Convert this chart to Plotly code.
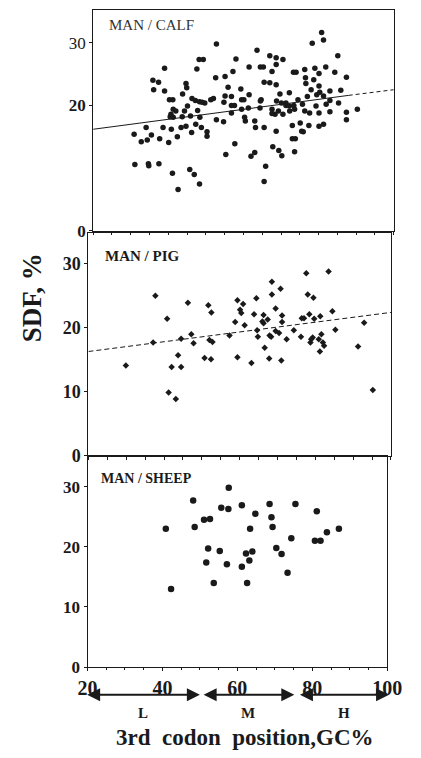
import plotly.graph_objects as go

# ---------------- data ----------------
calf_gc = [80.8, 81.3, 78.3, 52.8, 63.6, 67.0, 68.7, 70.5, 85.1, 68.7, 48.2, 49.3, 58.0, 47.6, 39.0,
           81.9, 79.0, 61.5, 64.5, 65.3, 67.6, 76.3, 73.3, 74.0, 84.3, 80.1, 57.2, 35.9, 37.4, 52.6,
           55.1, 76.5, 78.7, 87.4, 65.5, 67.0, 68.7, 44.7, 44.9, 36.1, 39.0, 55.9, 59.3, 43.8, 76.6,
           80.1, 78.0, 80.3, 83.0, 85.9, 77.0, 79.5, 81.3, 69.7, 72.2, 61.5, 64.7, 64.5, 55.1, 56.8,
           59.5, 60.1, 40.3, 41.2, 46.3, 47.2, 48.3, 49.0, 49.7, 51.3, 52.0, 54.8, 56.8, 57.6, 83.0,
           85.3, 82.0, 79.3, 74.5, 75.7, 71.3, 73.4, 68.8, 70.1, 71.3, 72.2, 45.1, 41.3, 42.0, 44.3,
           47.8, 56.8, 59.5, 61.3, 64.4, 67.6, 69.3, 72.3, 73.6, 76.3, 77.6, 80.1, 83.0, 87.4, 90.3,
           40.7, 40.5, 41.3, 43.7, 45.9, 48.4, 52.8, 54.7, 60.3, 60.5, 63.0, 68.4, 70.5, 67.6, 81.3,
           80.1, 77.4, 75.1, 73.0, 87.4, 34.1, 38.6, 40.8, 43.4, 44.7, 47.3, 48.8, 50.3, 50.3, 63.2,
           65.5, 68.7, 75.5, 75.9, 30.9, 32.8, 34.4, 35.5, 37.7, 40.1, 42.4, 46.2, 57.7, 73.0, 73.8,
           67.8, 69.4, 70.2, 73.6, 55.3, 63.0, 62.0, 31.1, 34.7, 34.8, 37.5, 41.1, 45.7, 46.9, 48.3,
           42.6, 65.9, 65.5]
calf_sdf = [31.6, 30.4, 29.9, 29.8, 28.8, 27.9, 27.6, 27.3, 27.9, 26.5, 27.3, 27.3, 27.4, 25.8, 25.9,
            26.1, 25.9, 26.1, 26.1, 26.1, 25.4, 25.7, 25.3, 25.3, 25.3, 25.1, 25.4, 24.0, 23.7, 24.4,
            24.6, 24.4, 24.1, 24.5, 23.7, 23.6, 23.3, 23.5, 22.8, 22.5, 22.3, 22.9, 22.6, 21.8, 23.5,
            23.1, 22.5, 22.1, 22.3, 22.4, 21.4, 21.7, 21.5, 21.8, 22.0, 21.7, 20.9, 20.7, 21.5, 21.4,
            20.9, 20.9, 20.9, 20.9, 21.1, 20.8, 20.6, 20.5, 20.4, 20.9, 21.1, 20.5, 20.0, 20.0, 20.8,
            20.4, 20.2, 19.9, 20.9, 20.2, 20.4, 20.0, 20.7, 20.4, 20.0, 19.9, 19.9, 19.4, 19.1, 19.1,
            19.2, 18.8, 19.4, 19.6, 19.6, 19.4, 19.1, 19.1, 19.4, 19.1, 18.8, 18.8, 19.0, 18.9, 19.4,
            18.6, 18.2, 18.1, 18.2, 18.3, 18.1, 17.7, 17.4, 18.1, 17.5, 17.5, 18.6, 18.6, 18.7, 17.0,
            16.7, 16.8, 17.2, 16.8, 17.7, 16.5, 16.5, 16.2, 16.5, 16.7, 17.0, 16.5, 15.8, 15.1, 16.5,
            16.5, 15.9, 15.9, 15.8, 15.4, 14.2, 14.5, 15.3, 14.7, 14.1, 15.0, 15.7, 13.9, 14.7, 14.7,
            13.4, 12.8, 12.0, 12.6, 12.2, 12.5, 11.9, 10.6, 10.7, 10.4, 10.7, 9.2, 9.8, 9.0, 7.5,
            6.6, 10.3, 7.9]

pig_gc = [37.7, 40.8, 37.1, 42.0, 43.7, 44.5, 44.5, 41.2, 43.1, 29.9, 46.3, 47.2, 47.8, 50.7, 52.4,
          51.7, 52.5, 52.0, 52.8, 57.3, 58.8, 59.4, 60.1, 60.4, 60.9, 61.3, 59.4, 63.1, 63.8, 64.4,
          64.6, 64.8, 66.3, 66.6, 66.0, 66.3, 67.4, 67.8, 67.9, 68.3, 68.5, 68.5, 69.5, 69.5, 70.4,
          70.8, 71.2, 71.2, 71.0, 72.4, 74.3, 76.2, 76.4, 77.0, 77.6, 78.0, 78.4, 78.7, 78.9, 79.3,
          79.5, 79.7, 80.9, 81.2, 81.3, 81.6, 82.0, 82.3, 83.5, 84.5, 85.3, 91.3, 92.9, 95.2]
pig_sdf = [25.0, 21.4, 17.7, 13.9, 15.7, 13.9, 18.3, 9.9, 8.9, 14.1, 23.9, 19.0, 17.6, 15.3, 15.1,
           23.5, 22.4, 18.1, 17.8, 18.8, 20.9, 24.3, 22.8, 22.3, 23.7, 20.4, 15.4, 14.5, 22.1, 24.6,
           19.6, 18.6, 22.0, 16.9, 21.0, 20.7, 21.3, 15.2, 18.8, 18.6, 27.2, 25.2, 23.0, 19.5, 19.2,
           26.1, 21.9, 20.9, 14.9, 18.2, 19.6, 18.6, 21.5, 21.5, 28.5, 25.2, 22.1, 17.7, 18.2, 18.5,
           24.7, 21.4, 18.2, 16.3, 21.8, 19.0, 17.7, 17.2, 28.8, 22.6, 19.7, 17.1, 20.8, 10.3]

sheep_gc = [40.9, 42.3, 48.2, 48.6, 51.1, 52.7, 52.2, 51.7, 53.7, 55.7, 55.3, 57.2, 57.7, 57.6, 61.2,
            61.2, 62.3, 62.6, 63.4, 63.2, 64.0, 64.8, 68.6, 69.1, 69.4, 70.4, 71.8, 73.4, 74.4, 75.5,
            81.2, 80.7, 82.2, 83.9, 87.1]
sheep_sdf = [23.0, 13.0, 27.7, 23.3, 24.5, 24.6, 19.7, 17.4, 14.0, 26.5, 19.3, 17.1, 29.8, 26.3, 26.9,
             16.7, 18.9, 14.0, 23.0, 17.7, 19.2, 25.5, 27.1, 24.9, 23.3, 19.8, 18.8, 15.7, 21.4, 27.1,
             25.9, 21.0, 21.0, 22.4, 23.0]

calf_fit_gc = [20, 88, 100]
calf_fit_sdf = [16.2, 21.6, 22.5]
pig_fit_gc = [20, 100]
pig_fit_sdf = [16.3, 22.4]

x_tick_vals = [20, 40, 60, 80, 100]
y_tick_vals = [0, 10, 20, 30]
class_labels = ["L", "M", "H"]
class_edges = [(19.5, 50), (50.6, 75.2), (76.3, 100.5)]

panel_titles = ["MAN / CALF", "MAN / PIG", "MAN / SHEEP"]

# ---------------- figure ----------------
# page body keeps its default 8px margin, so the figure is drawn offset by (8, 8)
OX, OY = 8, 8
W, H = 421 - OX, 758 - OY
SERIF = "Liberation Serif"
INK = "#1a1a1a"

fig = go.Figure()

fig.add_trace(go.Scatter(x=calf_gc, y=calf_sdf, mode="markers", xaxis="x", yaxis="y",
                         marker=dict(size=5.5, color=INK), showlegend=False))
fig.add_trace(go.Scatter(x=calf_fit_gc[:2], y=calf_fit_sdf[:2], mode="lines", xaxis="x", yaxis="y",
                         line=dict(color=INK, width=1), showlegend=False))
fig.add_trace(go.Scatter(x=calf_fit_gc[1:], y=calf_fit_sdf[1:], mode="lines", xaxis="x", yaxis="y",
                         line=dict(color=INK, width=1, dash="4px,3px"), showlegend=False))

fig.add_trace(go.Scatter(x=pig_gc, y=pig_sdf, mode="markers", xaxis="x2", yaxis="y2",
                         marker=dict(size=5, color=INK, symbol="diamond"), showlegend=False))
fig.add_trace(go.Scatter(x=pig_fit_gc, y=pig_fit_sdf, mode="lines", xaxis="x2", yaxis="y2",
                         line=dict(color=INK, width=1, dash="5px,3px"), showlegend=False))

fig.add_trace(go.Scatter(x=sheep_gc, y=sheep_sdf, mode="markers", xaxis="x3", yaxis="y3",
                         marker=dict(size=6.5, color=INK), showlegend=False))


def px_x(p):
    return (p - OX) / W


def px_y(p):
    return 1 - (p - OY) / H


axis_common = dict(showline=True, mirror=True, linecolor=INK, linewidth=1, showgrid=False,
                   zeroline=False, ticks="outside", ticklen=3, tickcolor=INK)

fig.update_layout(
    width=W, height=H, margin=dict(l=0, r=0, t=0, b=0),
    paper_bgcolor="white", plot_bgcolor="white",
    font=dict(family=SERIF, color=INK),
    xaxis=dict(domain=[px_x(88), px_x(408)], range=[20, 100], anchor="y", showticklabels=False,
               tickvals=list(range(20, 101, 5)), **axis_common),
    yaxis=dict(domain=[px_y(234), px_y(10)], range=[0, 35.2], anchor="x",
               tickvals=[0, 20, 30], ticktext=["<b>0</b>", "<b>20</b>", "30"],
               tickfont=dict(size=17, family=SERIF), **axis_common),
    xaxis2=dict(domain=[px_x(83), px_x(405)], range=[20, 100], anchor="y2", showticklabels=False,
                tickvals=list(range(20, 101, 5)), **axis_common),
    yaxis2=dict(domain=[px_y(462), px_y(236)], range=[0, 34.8], anchor="x2",
                tickvals=y_tick_vals, ticktext=["<b>%d</b>" % v for v in y_tick_vals],
                tickfont=dict(size=18, family=SERIF), **axis_common),
    xaxis3=dict(domain=[px_x(82), px_x(401)], range=[20, 100], anchor="y3",
                tickvals=x_tick_vals, ticktext=["<b>%d</b>" % v for v in x_tick_vals],
                tickfont=dict(size=20, family=SERIF),
                minor=dict(dtick=5, ticks="outside", ticklen=2, tickcolor=INK),
                **axis_common),
    yaxis3=dict(domain=[px_y(676), px_y(462)], range=[0, 35.1], anchor="x3",
                tickvals=y_tick_vals, ticktext=["<b>%d</b>" % v for v in y_tick_vals],
                tickfont=dict(size=17, family=SERIF), **axis_common),
)

annotations = []
# panel titles
annotations.append(dict(text=panel_titles[0], x=px_x(103), y=px_y(25), xref="paper", yref="paper",
                        xanchor="left", yanchor="middle", showarrow=False,
                        font=dict(size=15, family=SERIF, color="#333")))
annotations.append(dict(text="<b>%s</b>" % panel_titles[1], x=px_x(99), y=px_y(259), xref="paper",
                        yref="paper", xanchor="left", yanchor="middle", showarrow=False,
                        font=dict(size=15, family=SERIF)))
annotations.append(dict(text="<b>%s</b>" % panel_titles[2], x=px_x(94), y=px_y(485), xref="paper",
                        yref="paper", xanchor="left", yanchor="middle", showarrow=False,
                        font=dict(size=14, family=SERIF)))

# class arrows and labels
for lab, (a, b) in zip(class_labels, class_edges):
    annotations.append(dict(x=b, y=px_y(704), xref="x3", yref="paper", ax=a, ay=0,
                            axref="x3", ayref="pixel", showarrow=True, arrowhead=2,
                            arrowside="end+start", arrowsize=1.3, arrowwidth=2, arrowcolor=INK,
                            text=""))
    annotations.append(dict(text="<b>%s</b>" % lab, x=(a + b) / 2, y=px_y(723), xref="x3",
                            yref="paper", showarrow=False, xanchor="center", yanchor="middle",
                            font=dict(size=15, family=SERIF)))

annotations.append(dict(text="<b>3rd  codon  position,GC%</b>", x=px_x(250), y=px_y(747),
                        xref="paper", yref="paper", showarrow=False, xanchor="center",
                        yanchor="middle", font=dict(size=23, family=SERIF)))
annotations.append(dict(text="<b>SDF, %</b>", x=px_x(23), y=px_y(302), xref="paper", yref="paper",
                        showarrow=False, textangle=-90, xanchor="center", yanchor="middle",
                        font=dict(size=27, family=SERIF)))

fig.update_layout(annotations=annotations)

fig.write_html("out.html")
